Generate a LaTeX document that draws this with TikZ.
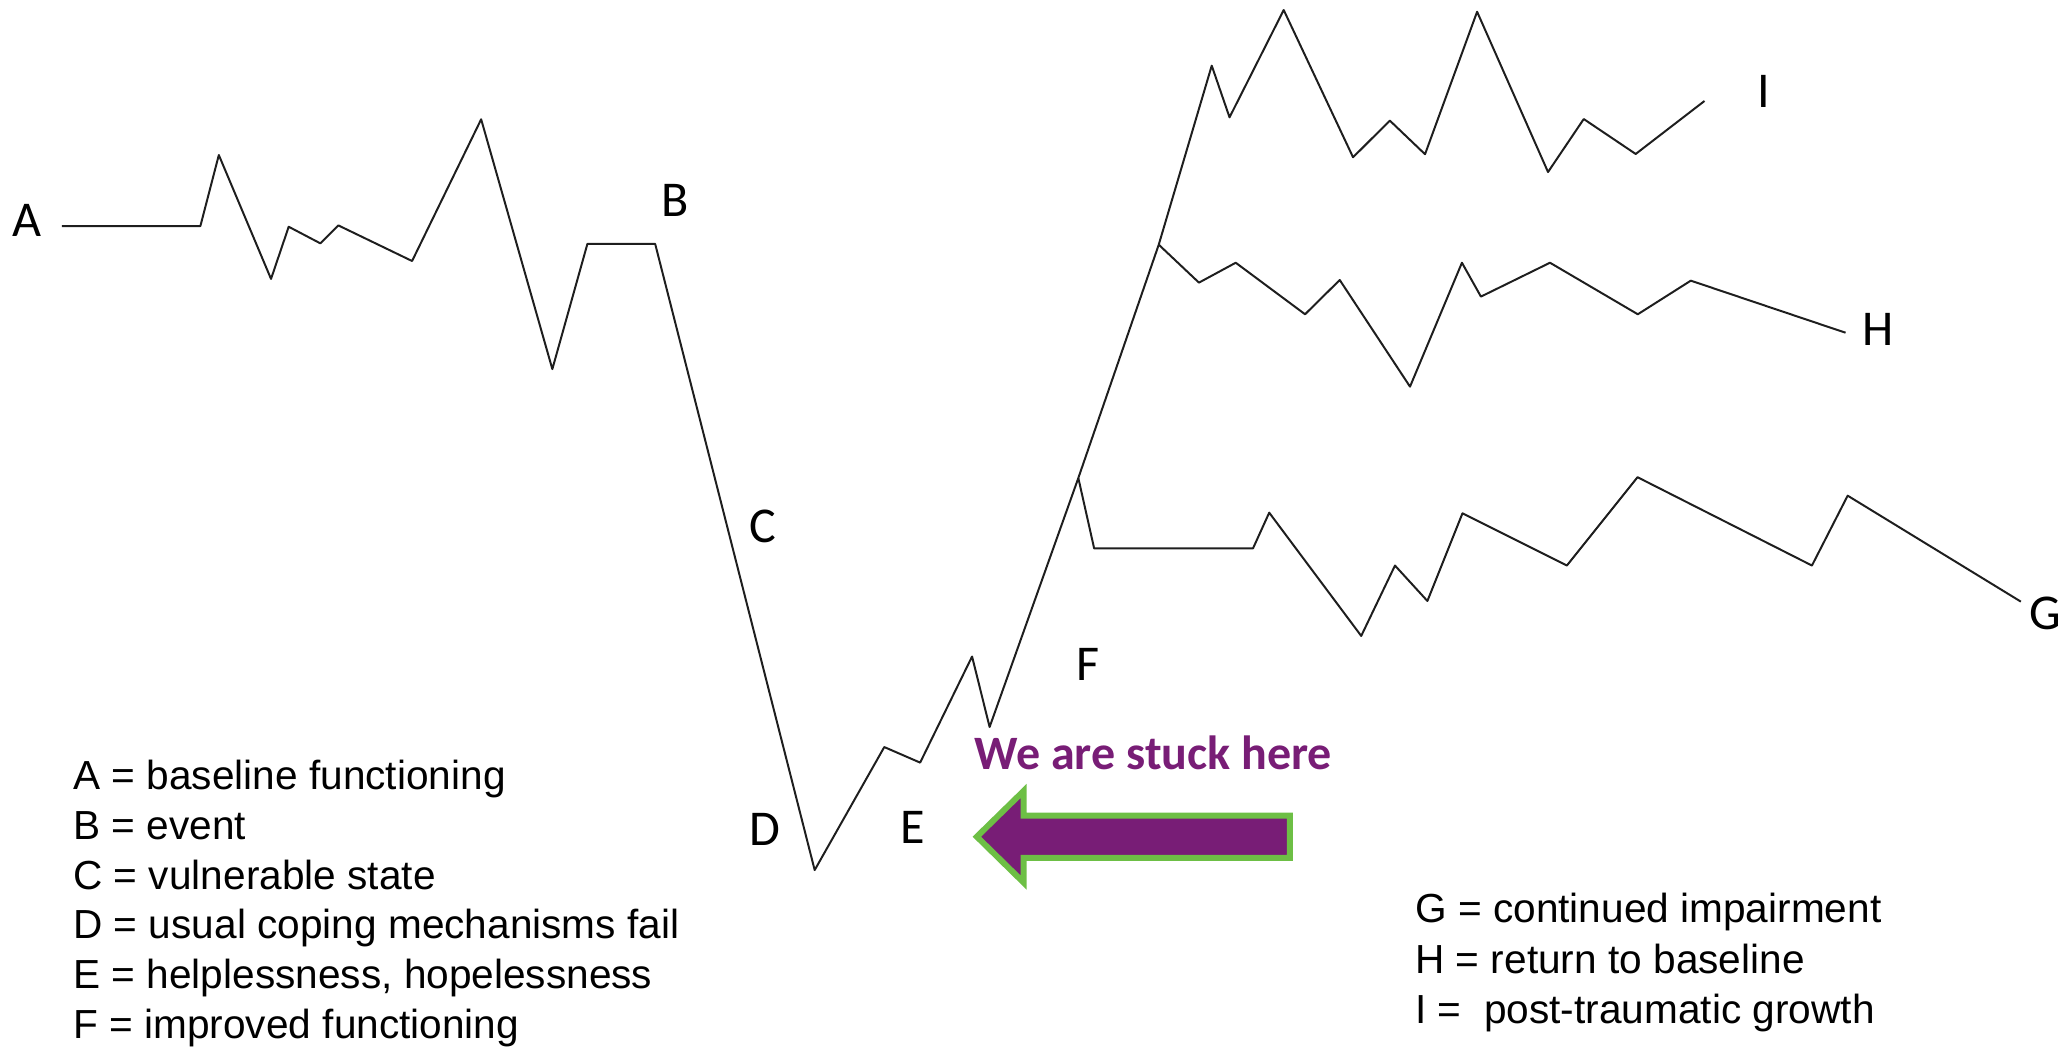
\documentclass[tikz,border=0pt]{standalone}
\usepackage{fontspec}
\setmainfont{Liberation Sans}
\newfontfamily\calibri{Carlito}
\definecolor{ink}{HTML}{1E1E1E}
\definecolor{stuckpurple}{HTML}{781D76}
\definecolor{rimgreen}{HTML}{6DBF45}
\tikzset{
  trace/.style={draw=ink,line width=1.5pt,line join=round},
  tag/.style={font=\calibri\fontsize{38}{40}\selectfont,inner sep=0pt},
  key/.style={anchor=base west,inner sep=0pt,font=\fontsize{30.8}{37.7}\selectfont},
  stucktext/.style={anchor=base west,inner sep=0pt,text=stuckpurple,
    font=\calibri\bfseries\fontsize{36.4}{40}\selectfont},
  stuckarrow/.style={fill=stuckpurple,draw=rimgreen,line width=4.5pt,line join=miter}}
\begin{document}
\begin{tikzpicture}[x=1pt,y=-1pt]
\useasboundingbox (0,0) rectangle (1568,795);
\coordinate (start) at (47,171.5);
\coordinate (event) at (497,185);
\coordinate (low) at (618,660);
\coordinate (splitG) at (818,362.6);
\coordinate (splitH) at (879,185.6);
\coordinate (endI) at (1293,76.6);
\coordinate (endH) at (1400,252.4);
\coordinate (endG) at (1533,456.4);
\draw[trace] (start) -- (152,171.5) -- (166,117.6) -- (205.6,211.6) -- (219,172) -- (243,184.6)
  -- (256.7,171) -- (312.6,198) -- (365,90.5) -- (419,280) -- (445.6,185) -- (event) -- (low)
  -- (670.8,566.7) -- (698,578.5) -- (737.4,498) -- (750.7,551.5) -- (splitG) -- (splitH)
  -- (919.2,49.8) -- (932.7,89) -- (973.8,7.6) -- (1026.4,119.3) -- (1054.3,91.5) -- (1081,117)
  -- (1120.5,8.9) -- (1174.3,130.5) -- (1201.4,90.3) -- (1240.8,116.8) -- (endI);
\draw[trace] (splitH) -- (909.5,214.4) -- (937.4,199.3) -- (990,238.4) -- (1016.3,212.4)
  -- (1069.6,293.3) -- (1109,199.3) -- (1123.4,225) -- (1175.8,199.3) -- (1242.4,238.4)
  -- (1282.6,212.9) -- (endH);
\draw[trace] (splitG) -- (830,416) -- (950.5,416) -- (962.8,388.9) -- (1032.6,482.4)
  -- (1058.2,429) -- (1082.8,455.9) -- (1109.4,389.4) -- (1188.6,429) -- (1242.2,362)
  -- (1374.5,429) -- (1401.6,376) -- (endG);
\node[tag] (A) at (20.5,167.5) {A};
\node[tag] (B) at (512,152) {B};
\node[tag] (C) at (578.5,399) {C};
\node[tag] (D) at (580,629) {D};
\node[tag] (E) at (692.6,627.5) {E};
\node[tag] (F) at (825,503.7) {F};
\node[tag] (G) at (1551.7,465) {G};
\node[tag] (H) at (1425,250) {H};
\node[tag] (I) at (1338,69) {I};
\node[stucktext] (stuck) at (739,584) {We are stuck here};
\draw[stuckarrow] (741,634.7) -- (776.5,600) -- (776.5,618.7) -- (978.4,618.7) -- (978.4,650.7)
  -- (776.5,650.7) -- (776.5,669.5) -- cycle;
\foreach \txt [count=\i] in {A = baseline functioning, B = event, C = vulnerable state,
  D = usual coping mechanisms fail, {E = helplessness, hopelessness}, F = improved functioning}
  \node[key] (left\i) at (55.5,{599+37.7*(\i-1)}) {\txt};
\foreach \txt [count=\i] in {G = continued impairment, H = return to baseline, I = \ post-traumatic growth}
  \node[key] (right\i) at (1073.5,{700+38.1*(\i-1)}) {\txt};
\end{tikzpicture}
\end{document}
